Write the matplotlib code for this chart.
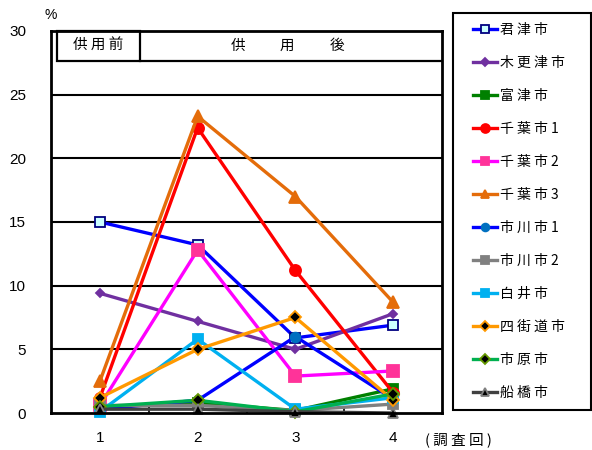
import matplotlib
matplotlib.use("Agg")
import matplotlib.pyplot as plt
from matplotlib.patches import Rectangle

surveys = [1, 2, 3, 4]
cities = ["君 津 市", "木 更 津 市", "富 津 市", "千 葉 市 1", "千 葉 市 2", "千 葉 市 3",
          "市 川 市 1", "市 川 市 2", "白 井 市", "四 街 道 市", "市 原 市", "船 橋 市"]

kimitsu = [15.0, 13.2, 5.9, 6.9]
kisarazu = [9.4, 7.2, 5.0, 7.8]
futtsu = [0.5, 0.8, 0.2, 1.9]
chiba1 = [1.2, 22.4, 11.2, 1.6]
chiba2 = [0.6, 12.8, 2.9, 3.3]
chiba3 = [2.5, 23.3, 17.0, 8.7]
ichikawa1 = [0.3, 1.0, 6.0, 1.1]
ichikawa2 = [0.6, 0.6, 0.2, 0.7]
shiroi = [0.1, 5.8, 0.3, 1.2]
yotsukaido = [1.2, 5.0, 7.5, 1.0]
ichihara = [0.5, 1.0, 0.1, 1.5]
funabashi = [0.3, 0.3, 0.1, 0.0]

series = [kimitsu, kisarazu, futtsu, chiba1, chiba2, chiba3,
          ichikawa1, ichikawa2, shiroi, yotsukaido, ichihara, funabashi]

y_ticks = [0, 5, 10, 15, 20, 25, 30]
header_before = "供 用 前"
header_after = ["供", "用", "後"]

# line colour, marker, marker face, marker edge, marker size
styles = [
    ("#0000FF", "s", "#CCFFFF", "#000080", 7),
    ("#7030A0", "D", "#7030A0", "#7030A0", 4.5),
    ("#008000", "s", "#008000", "#008000", 7),
    ("#FF0000", "o", "#FF0000", "#FF0000", 8),
    ("#FF00FF", "s", "#FF3399", "#FF3399", 8),
    ("#E46C0A", "^", "#E46C0A", "#E46C0A", 8),
    ("#0000FF", "o", "#0070C0", "#0070C0", 7),
    ("#808080", "s", "#808080", "#808080", 7),
    ("#00B0F0", "s", "#00B0F0", "#00B0F0", 7),
    ("#FF9900", "D", "#000000", "#FF9900", 6),
    ("#00B050", "D", "#000000", "#669900", 6),
    ("#404040", "^", "#000000", "#808080", 7),
]

cjk = ["Noto Sans CJK JP", "DejaVu Sans"]
num = ["Liberation Sans", "DejaVu Sans"]

fig = plt.figure(figsize=(5.92, 4.5), dpi=100)
ax = fig.add_axes([0.0862, 0.0822, 0.6604, 0.849])

handles = []
for vals, (lc, mk, mf, me, ms) in zip(series, styles):
    h, = ax.plot(surveys, vals, color=lc, lw=2.4, marker=mk, markerfacecolor=mf,
                 markeredgecolor=me, markeredgewidth=1.3, markersize=ms, clip_on=False)
    handles.append(h)

ax.set_xlim(0.5, 4.5)
ax.set_ylim(0, 30)
ax.set_yticks(y_ticks)
ax.set_yticklabels([str(v) for v in y_ticks], family=num, fontsize=11)
ax.set_xticks(surveys)
ax.set_xticklabels([str(v) for v in surveys], family=num, fontsize=11)
ax.set_xticks([1.5, 2.5, 3.5], minor=True)
ax.tick_params(axis="y", length=0, pad=18)
ax.tick_params(axis="x", which="major", length=0, pad=13)
ax.tick_params(axis="x", which="minor", direction="in", length=4, width=1.2)
for s in ax.spines.values():
    s.set_linewidth(2)
    s.set_color("black")
for v in y_ticks[1:-1]:
    ax.axhline(v, color="black", lw=1.5, zorder=0.5)

# header band
hb = 27.65
ax.add_patch(Rectangle((0.56, hb), 0.85, 30 - hb, fill=False, lw=1.6,
                       edgecolor="black", zorder=3, clip_on=False))
ax.plot([1.41, 4.5], [hb, hb], color="black", lw=1.6, zorder=3)
ax.text(0.985, (hb + 30) / 2, header_before, family=cjk, fontsize=10.5,
        ha="center", va="center")
for xpos, ch in zip([2.418, 2.918, 3.43], header_after):
    ax.text(xpos, (hb + 30) / 2, ch, family=cjk, fontsize=10.5,
            ha="center", va="center")

fig.text(0.086, 0.966, "%", family=num, fontsize=10, ha="center", va="center")
fig.text(0.718, 0.022, "( 調 査 回 )", family=cjk, fontsize=10.5, ha="left", va="center")

# legend entries without their own frame; a separate box surrounds them
leg = fig.legend(handles, cities, loc="upper left", bbox_to_anchor=(473 / 592, 1 - 23 / 450),
                 prop={"family": cjk, "size": 10}, frameon=False,
                 handlelength=1.75, handletextpad=0.2, labelspacing=1.37,
                 borderpad=0, borderaxespad=0, markerscale=0.8)
fig.add_artist(Rectangle((453 / 592, 1 - 410 / 450), 138 / 592, 397 / 450,
                         transform=fig.transFigure, fill=False, lw=1.5,
                         edgecolor="black"))

fig.savefig("out.png", dpi=100)
